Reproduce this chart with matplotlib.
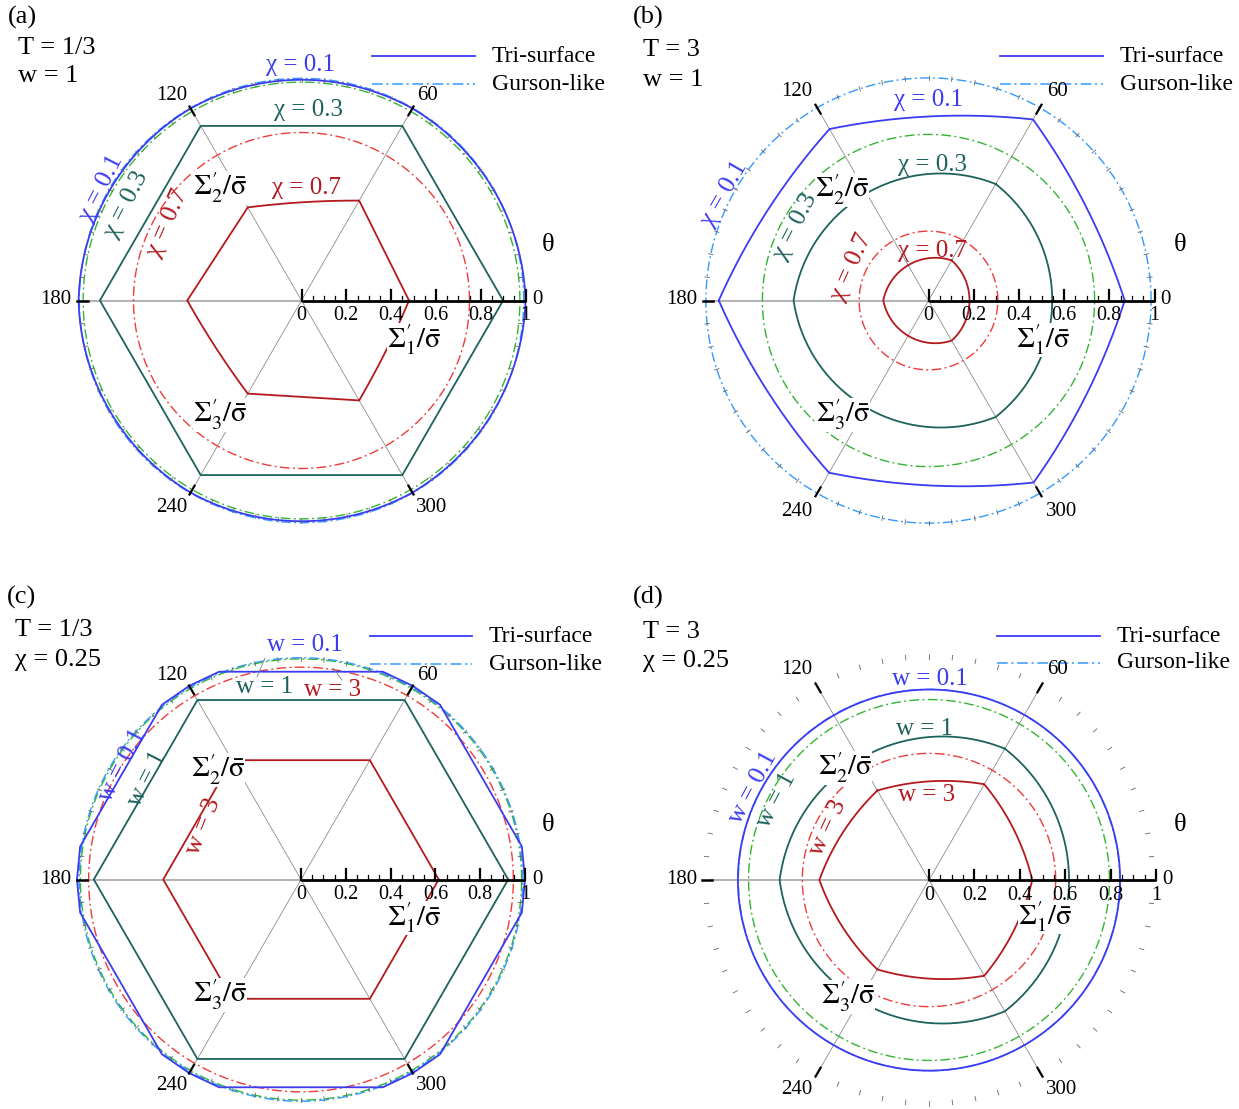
import numpy as np
import matplotlib.pyplot as plt
from matplotlib.lines import Line2D

plt.rcParams['font.family'] = ['Liberation Serif', 'DejaVu Serif']
plt.rcParams['mathtext.fontset'] = 'stix'

W, H = 1239, 1109

BLUE = '#3b3bf2'
LBLUE = '#3399ff'
TEAL = '#1d625c'
GREEN = '#33b433'
DRED = '#b3191e'
RED = '#ee3b3b'
DASHDOT = (0, (7, 2.4, 1.4, 2.4))

# Tri-surface curves: corner angles (deg), corner radii, and the outward bow
# (sagitta) of each side between two corners; 0 means a straight side.
hex_ang = [0, 60, 120, 180, 240, 300, 360]
tri_ang = [60, 180, 300, 420]

# (a) T = 1/3, w = 1 ; chi = 0.1, 0.3, 0.7
a_tri_01 = [1.0, 0.99, 0.99, 0.995, 0.99, 0.99, 1.0]
a_bow_01 = [0.128, 0.128, 0.128, 0.128, 0.128, 0.128]
a_tri_03 = [0.90, 0.90, 0.90, 0.90, 0.90, 0.90, 0.90]
a_bow_03 = [0, 0, 0, 0, 0, 0]
a_tri_07 = [0.48, 0.515, 0.48, 0.51, 0.48, 0.515, 0.48]
a_bow_07 = [0, 0.008, 0, 0.008, 0, 0.008]
a_gur = [0.992, 0.975, 0.75]

# (b) T = 3, w = 1
b_tri_01 = [0.868, 0.925, 0.876, 0.928, 0.88, 0.93, 0.868]
b_bow_01 = [0.035, 0.035, 0.035, 0.035, 0.035, 0.035]
b_tri_03 = [0.595, 0.597, 0.595, 0.595]
b_bow_03 = [0.25, 0.25, 0.25]
b_tri_07 = [0.205, 0.2, 0.205, 0.205]
b_bow_07 = [0.079, 0.079, 0.079]
b_gur = [0.985, 0.735, 0.307]

# (c) T = 1/3, chi = 0.25 ; w = 0.1, 1, 3
c_ang_01 = [0, 8.5, 51.5, 60, 68.5, 111.5, 120, 128.5, 171.5, 180, 188.5, 231.5, 240,
            248.5, 291.5, 300, 308.5, 351.5, 360]
c_tri_01 = [1.0, 0.997, 0.997, 0.998, 0.997, 0.997, 0.998, 0.997, 0.997, 1.0, 0.997, 0.997,
            0.998, 0.997, 0.997, 0.998, 0.997, 0.997, 1.0]
c_tri_1 = [0.925, 0.925, 0.925, 0.925, 0.925, 0.925, 0.925]
c_tri_3 = [0.615, 0.615, 0.615, 0.615, 0.615, 0.615, 0.615]
c_gur = [0.99, 0.985, 0.948]

# (d) T = 3, chi = 0.25 ; w = 0.1, 1, 3
d_tri_01 = [0.842, 0.84, 0.838, 0.842, 0.84, 0.84, 0.842]
d_bow_01 = [0.1125, 0.1125, 0.1125, 0.1125, 0.1125, 0.1125]
d_tri_1 = [0.668, 0.658, 0.668, 0.668]
d_bow_1 = [0.283, 0.283, 0.283]
d_tri_3 = [0.455, 0.487, 0.455, 0.483, 0.455, 0.487, 0.455]
d_bow_3 = [0.027, 0.027, 0.027, 0.027, 0.027, 0.027]
d_gur = [0.84, 0.795, 0.558]

fig = plt.figure(figsize=(W / 100, H / 100), dpi=100)


def make_panel(x0, y0, x1, y1, ox, oy, unit):
    ax = fig.add_axes([x0 / W, 1 - y1 / H, (x1 - x0) / W, (y1 - y0) / H])
    ax.set_xlim((x0 - ox) / unit, (x1 - ox) / unit)
    ax.set_ylim((oy - y1) / unit, (oy - y0) / unit)
    ax.axis('off')
    return ax


def frame(ax):
    for t in (60, 120, 240, 300):
        c, s = np.cos(np.radians(t)), np.sin(np.radians(t))
        ax.plot([0, 0.96 * c], [0, 0.96 * s], color='#8c8c8c', lw=0.6, zorder=1)
        ax.plot([0.955 * c, 1.0 * c], [0.955 * s, 1.0 * s], color='k', lw=1.6, zorder=6)
    ax.plot([-0.96, 0], [0, 0], color='#b4b4b4', lw=1.5, zorder=1)
    ax.plot([-1.0, -0.955], [0, 0], color='k', lw=1.8, zorder=6)
    for t in range(6, 360, 6):
        if t % 60 == 0:
            continue
        c, s = np.cos(np.radians(t)), np.sin(np.radians(t))
        ax.plot([0.975 * c, 0.995 * c], [0.975 * s, 0.995 * s], color='#666666', lw=0.6, zorder=5)
    # radial axis along theta = 0
    ax.plot([0, 1.0], [0, 0], color='k', lw=2.0, zorder=7, solid_capstyle='butt')
    for i in range(21):
        v = i * 0.05
        h = 0.045 if i % 4 == 0 else 0.022
        ax.plot([v, v], [0, h], color='k', lw=1.6 if i % 4 == 0 else 0.9, zorder=7)


def side(p, q, bow):
    # points of one side from corner p to corner q, a circular arc bowed outward
    if bow <= 0:
        return np.array([p, q])
    m = (p + q) / 2
    d = q - p
    L = np.hypot(*d)
    n = np.array([d[1], -d[0]]) / L
    if np.dot(n, m) < 0:
        n = -n
    R = L ** 2 / (8 * bow) + bow / 2
    c = m - (R - bow) * n
    a0 = np.arctan2(*(p - c)[::-1])
    a1 = np.arctan2(*(q - c)[::-1])
    da = (a1 - a0 + np.pi) % (2 * np.pi) - np.pi
    a = a0 + da * np.linspace(0, 1, 80)
    return np.column_stack([c[0] + R * np.cos(a), c[1] + R * np.sin(a)])


def tri_curve(ax, ang, r, bows=None, **kw):
    t = np.radians(ang)
    pts = np.column_stack([np.array(r) * np.cos(t), np.array(r) * np.sin(t)])
    if bows is None:
        bows = [0] * (len(pts) - 1)
    xy = np.vstack([side(pts[i], pts[i + 1], bows[i]) for i in range(len(pts) - 1)])
    ax.plot(xy[:, 0], xy[:, 1], **kw)


def circle(ax, r, **kw):
    t = np.linspace(0, 2 * np.pi, 721)
    ax.plot(r * np.cos(t), r * np.sin(t), **kw)


def txt(x, y, s, size, color='k', **kw):
    kw.setdefault('ha', 'center')
    kw.setdefault('va', 'center')
    fig.text(x / W, 1 - y / H, s, fontsize=size, color=color, **kw)


def labels(ox, oy, r_lbl, th_lbl):
    for i, v in enumerate(['0', '0.2', '0.4', '0.6', '0.8', '1']):
        txt(ox + i * 0.2 * r_lbl, oy + 15, v, 14.5, zorder=4)
    for x, y, s in th_lbl:
        txt(x, y, s, 15)


def legend(x0, x1, y1, y2):
    fig.add_artist(Line2D([x0 / W, x1 / W], [1 - y1 / H, 1 - y1 / H], color=BLUE, lw=1.3))
    fig.add_artist(Line2D([x0 / W, x1 / W], [1 - y2 / H, 1 - y2 / H], color=LBLUE, lw=1.1,
                          linestyle=DASHDOT))
    txt(x1 + 17, y1, 'Tri-surface', 17, ha='left')
    txt(x1 + 17, y2, 'Gurson-like', 17, ha='left')


def sigma_labels(p1, p2, p3):
    box = dict(facecolor='white', edgecolor='none', pad=0)
    for (x, y), k in ((p1, 1), (p2, 2), (p3, 3)):
        txt(x, y, r"$\Sigma^{\prime}_{%d}/\bar{\mathrm{\sigma}}$" % k, 20.5, bbox=box, zorder=2)


def gurson(ax, radii):
    for r, col in zip(radii[::-1], (RED, GREEN, LBLUE)):
        circle(ax, r, color=col, lw=1.0, linestyle=DASHDOT, zorder=2)


lw_tri = 1.3

# ---------------- (a) ----------------
ax = make_panel(0, 0, 620, 560, 301.5, 300.5, 224)
frame(ax)
gurson(ax, a_gur)
tri_curve(ax, hex_ang, a_tri_07, a_bow_07, color=DRED, lw=lw_tri, zorder=3)
tri_curve(ax, hex_ang, a_tri_03, a_bow_03, color=TEAL, lw=lw_tri, zorder=3)
tri_curve(ax, hex_ang, a_tri_01, a_bow_01, color=BLUE, lw=lw_tri, zorder=4)

txt(22, 17, '(a)', 19)
txt(18, 48, 'T = 1/3', 19, ha='left')
txt(18, 76, 'w = 1', 19, ha='left')
legend(372, 475, 56, 84)
labels(301.5, 300.5, 224, [(537, 300, '0'), (427, 96, '60'), (172, 96, '120'),
                             (56, 300, '180'), (172, 507, '240'), (432, 507, '300')])
txt(548, 245, 'θ', 19)
txt(300, 65, 'χ = 0.1', 18, BLUE)
txt(308, 110, 'χ = 0.3', 18, TEAL)
txt(306, 188, 'χ = 0.7', 18, DRED)
txt(101, 188, 'χ = 0.1', 18.5, BLUE, rotation=63)
txt(126, 204, 'χ = 0.3', 18.5, TEAL, rotation=63)
txt(167, 223, 'χ = 0.7', 18.5, DRED, rotation=66)
sigma_labels((414, 340), (220, 188), (220, 415))

# ---------------- (b) ----------------
ax = make_panel(620, 0, 1239, 560, 928.5, 300.5, 226)
frame(ax)
gurson(ax, b_gur)
tri_curve(ax, tri_ang, b_tri_07, b_bow_07, color=DRED, lw=lw_tri, zorder=3)
tri_curve(ax, tri_ang, b_tri_03, b_bow_03, color=TEAL, lw=lw_tri, zorder=3)
tri_curve(ax, hex_ang, b_tri_01, b_bow_01, color=BLUE, lw=lw_tri, zorder=4)

txt(648, 17, '(b)', 19)
txt(643, 50, 'T = 3', 19, ha='left')
txt(643, 80, 'w = 1', 19, ha='left')
legend(1000, 1103, 56, 84)
labels(928.5, 300.5, 226, [(1165, 300, '0'), (1057, 91, '60'), (797, 91, '120'),
                             (682, 300, '180'), (797, 512, '240'), (1062, 512, '300')])
txt(1180, 245, 'θ', 19)
txt(928, 100, 'χ = 0.1', 18, BLUE)
txt(933, 165, 'χ = 0.3', 18, TEAL)
txt(933, 251, 'χ = 0.7', 18, DRED)
txt(724, 194, 'χ = 0.1', 18.5, BLUE, rotation=60)
txt(795, 226, 'χ = 0.3', 18.5, TEAL, rotation=63)
txt(851, 267, 'χ = 0.7', 18.5, DRED, rotation=66)
sigma_labels((1043, 340), (842, 190), (843, 415))

# ---------------- (c) ----------------
ax = make_panel(0, 560, 620, 1109, 301, 879.5, 224)
frame(ax)
gurson(ax, c_gur)
tri_curve(ax, hex_ang, c_tri_3, color=DRED, lw=lw_tri, zorder=3)
tri_curve(ax, hex_ang, c_tri_1, color=TEAL, lw=lw_tri, zorder=3)
tri_curve(ax, c_ang_01, c_tri_01, color=BLUE, lw=lw_tri, zorder=4)

txt(22, 597, '(c)', 19)
txt(15, 630, 'T = 1/3', 19, ha='left')
txt(15, 660, 'χ = 0.25', 19, ha='left')
legend(370, 472, 636, 664)
labels(301, 879.5, 224, [(537, 880, '0'), (427, 675, '60'), (172, 675, '120'),
                           (56, 880, '180'), (172, 1086, '240'), (432, 1086, '300')])
txt(548, 825, 'θ', 19)
txt(305, 645, 'w = 0.1', 18, BLUE)
txt(265, 687, 'w = 1', 18, TEAL)
txt(333, 690, 'w = 3', 18, DRED)
fig.add_artist(Line2D([257 / W, 265 / W], [1 - 677 / H, 1 - 658 / H], color='#808080', lw=0.6))
fig.add_artist(Line2D([333 / W, 342 / W], [1 - 668 / H, 1 - 680 / H], color='#808080', lw=0.6))
txt(122, 765, 'w = 0.1', 18.5, BLUE, rotation=63)
txt(147, 779, 'w = 1', 18.5, TEAL, rotation=63)
txt(203, 826, 'w = 3', 18.5, DRED, rotation=68)
sigma_labels((414, 918), (218, 770), (220, 995))

# ---------------- (d) ----------------
ax = make_panel(620, 560, 1239, 1109, 929, 880, 227)
frame(ax)
gurson(ax, d_gur)
tri_curve(ax, hex_ang, d_tri_3, d_bow_3, color=DRED, lw=lw_tri, zorder=3)
tri_curve(ax, tri_ang, d_tri_1, d_bow_1, color=TEAL, lw=lw_tri, zorder=3)
tri_curve(ax, hex_ang, d_tri_01, d_bow_01, color=BLUE, lw=lw_tri, zorder=4)

txt(648, 597, '(d)', 19)
txt(643, 632, 'T = 3', 19, ha='left')
txt(643, 661, 'χ = 0.25', 19, ha='left')
legend(997, 1100, 636, 663)
labels(929, 880, 227, [(1167, 880, '0'), (1058, 670, '60'), (797, 670, '120'),
                         (682, 880, '180'), (797, 1090, '240'), (1062, 1090, '300')])
txt(1180, 825, 'θ', 19)
txt(930, 679, 'w = 0.1', 18, BLUE)
txt(925, 729, 'w = 1', 18, TEAL)
txt(927, 795, 'w = 3', 18, DRED)
txt(753, 788, 'w = 0.1', 18.5, BLUE, rotation=62)
txt(777, 800, 'w = 1', 18.5, TEAL, rotation=62)
txt(828, 828, 'w = 3', 18.5, DRED, rotation=65)
sigma_labels((1045, 917), (845, 768), (848, 997))

fig.savefig('out.png', dpi=100)
